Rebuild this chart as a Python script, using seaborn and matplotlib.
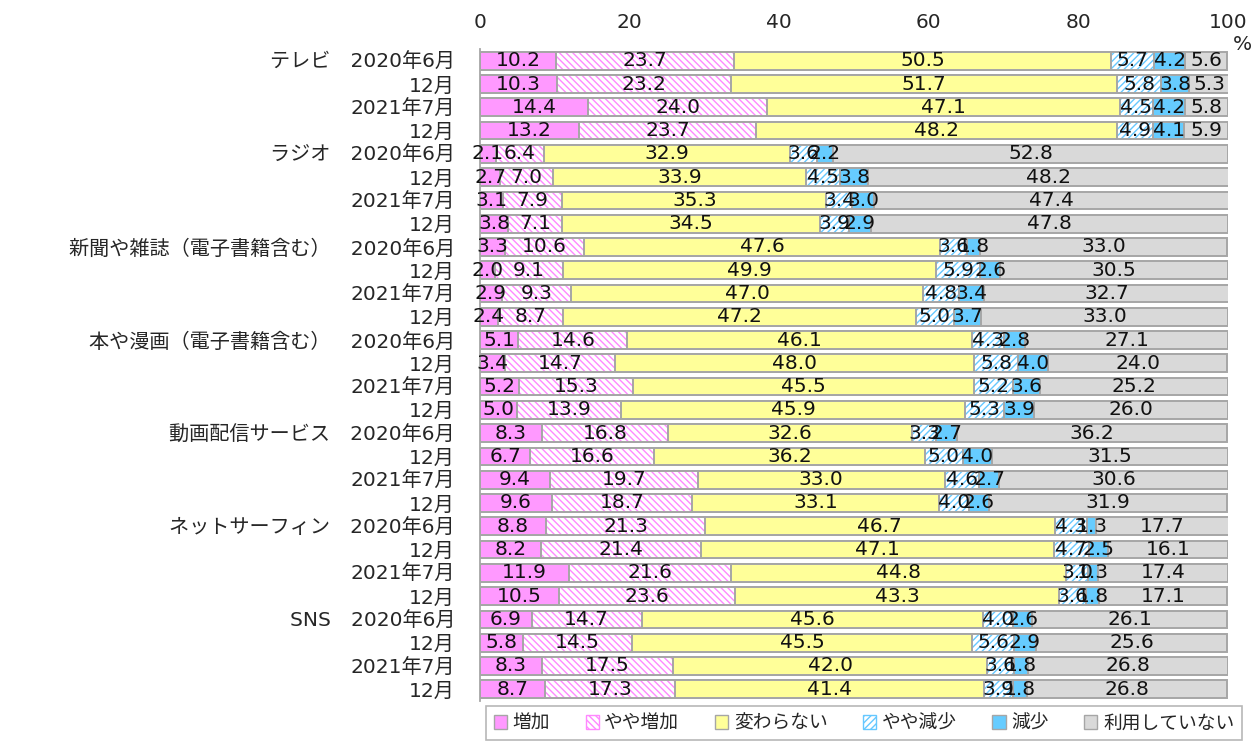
import numpy as np
import matplotlib.pyplot as plt
import seaborn as sns
from matplotlib.patches import Patch

# media and survey periods (rows of the chart)
media = ['テレビ', 'ラジオ', '新聞や雑誌（電子書籍含む）', '本や漫画（電子書籍含む）',
         '動画配信サービス', 'ネットサーフィン', 'SNS']
periods = ['2020年6月', '12月', '2021年7月', '12月']
categories = ['増加', 'やや増加', '変わらない', 'やや減少', '減少', '利用していない']

# values in %, 4 periods per medium
increase = [10.2, 10.3, 14.4, 13.2,
            2.1, 2.7, 3.1, 3.8,
            3.3, 2.0, 2.9, 2.4,
            5.1, 3.4, 5.2, 5.0,
            8.3, 6.7, 9.4, 9.6,
            8.8, 8.2, 11.9, 10.5,
            6.9, 5.8, 8.3, 8.7]
slight_increase = [23.7, 23.2, 24.0, 23.7,
                   6.4, 7.0, 7.9, 7.1,
                   10.6, 9.1, 9.3, 8.7,
                   14.6, 14.7, 15.3, 13.9,
                   16.8, 16.6, 19.7, 18.7,
                   21.3, 21.4, 21.6, 23.6,
                   14.7, 14.5, 17.5, 17.3]
unchanged = [50.5, 51.7, 47.1, 48.2,
             32.9, 33.9, 35.3, 34.5,
             47.6, 49.9, 47.0, 47.2,
             46.1, 48.0, 45.5, 45.9,
             32.6, 36.2, 33.0, 33.1,
             46.7, 47.1, 44.8, 43.3,
             45.6, 45.5, 42.0, 41.4]
slight_decrease = [5.7, 5.8, 4.5, 4.9,
                   3.6, 4.5, 3.4, 3.9,
                   3.6, 5.9, 4.8, 5.0,
                   4.3, 5.8, 5.2, 5.3,
                   3.3, 5.0, 4.6, 4.0,
                   4.3, 4.7, 3.0, 3.6,
                   4.0, 5.6, 3.6, 3.9]
decrease = [4.2, 3.8, 4.2, 4.1,
            2.2, 3.8, 3.0, 2.9,
            1.8, 2.6, 3.4, 3.7,
            2.8, 4.0, 3.6, 3.9,
            2.7, 4.0, 2.7, 2.6,
            1.3, 2.5, 1.3, 1.8,
            2.6, 2.9, 1.8, 1.8]
not_used = [5.6, 5.3, 5.8, 5.9,
            52.8, 48.2, 47.4, 47.8,
            33.0, 30.5, 32.7, 33.0,
            27.1, 24.0, 25.2, 26.0,
            36.2, 31.5, 30.6, 31.9,
            17.7, 16.1, 17.4, 17.1,
            26.1, 25.6, 26.8, 26.8]

# styling per category
fills = ['#FF99FF', 'white', '#FFFF99', 'white', '#66CCFF', '#D9D9D9']
hatch_colors = [None, '#FF88FF', None, '#66C8FF', None, None]
hatches = [None, '\\\\\\\\\\', None, '/////', None, None]
edge_grey = '#A6A6A6'
mixed_font = ['DejaVu Sans', 'Noto Sans CJK JP']

sns.set_style('white')
plt.rcParams['font.family'] = mixed_font
plt.rcParams['hatch.linewidth'] = 1.0

row_labels = []
for m in media:
    for i, p in enumerate(periods):
        row_labels.append(f'{m}\u3000{p}' if i == 0 else p)
row_ids = [str(i) for i in range(len(row_labels))]

values = np.array([increase, slight_increase, unchanged,
                   slight_decrease, decrease, not_used]).T
cum = values.cumsum(axis=1)

fig = plt.figure(figsize=(12.58, 7.44), dpi=100)
ax = fig.add_axes([0.3816, 0.058, 0.5946, 0.876])

# stacked bars by overlapping cumulative bars, last category first
for k in reversed(range(len(categories))):
    if hatches[k] is None:
        sns.barplot(x=cum[:, k], y=row_ids, order=row_ids, orient='h',
                    color=fills[k], saturation=1, width=0.76, errorbar=None,
                    edgecolor=edge_grey, linewidth=1.4, ax=ax)
    else:
        sns.barplot(x=cum[:, k], y=row_ids, order=row_ids, orient='h',
                    color=fills[k], saturation=1, width=0.76, errorbar=None,
                    hatch=hatches[k], edgecolor=hatch_colors[k], linewidth=0, ax=ax)
        sns.barplot(x=cum[:, k], y=row_ids, order=row_ids, orient='h',
                    color=edge_grey, saturation=1, width=0.76, errorbar=None,
                    fill=False, linewidth=1.4, ax=ax)

# value labels centred in each segment
for i in range(values.shape[0]):
    for k in range(values.shape[1]):
        v = values[i, k]
        ax.text(cum[i, k] - v / 2, i, f'{v:.1f}', ha='center', va='center',
                fontsize=14.5, color='#111111', zorder=5)

ax.set_xlim(0, 100)
ax.set_ylim(len(row_ids) - 0.5, -0.5)
ax.set_xticks(range(0, 101, 20))
ax.xaxis.tick_top()
ax.tick_params(axis='x', length=0, pad=12, labelsize=14.5)
ax.set_yticks(range(len(row_labels)))
ax.set_yticklabels(row_labels)
ax.tick_params(axis='y', length=0, pad=18, labelsize=14.5)
ax.set_xlabel('')
ax.set_ylabel('')
for s in ['top', 'right', 'bottom']:
    ax.spines[s].set_visible(False)
ax.spines['left'].set_color(edge_grey)
ax.spines['left'].set_linewidth(1.3)

fig.text(1242 / 1258, 1 - 45 / 744, '%', ha='center', va='center', fontsize=14.5)

handles = []
for k in range(len(categories)):
    if hatches[k] is None:
        handles.append(Patch(facecolor=fills[k], edgecolor=edge_grey))
    else:
        handles.append(Patch(facecolor='white', edgecolor=hatch_colors[k], hatch=hatches[k]))
leg = fig.legend(handles, categories, ncol=6, loc='center',
                 bbox_to_anchor=(864 / 1258, 1 - 723 / 744), frameon=True,
                 fancybox=False, edgecolor=edge_grey, handlelength=0.7,
                 handleheight=0.7, handletextpad=0.3, columnspacing=1.9,
                 fontsize=13.5, borderpad=0.4)
leg.get_frame().set_linewidth(1.2)

fig.savefig('out.png', dpi=100)
